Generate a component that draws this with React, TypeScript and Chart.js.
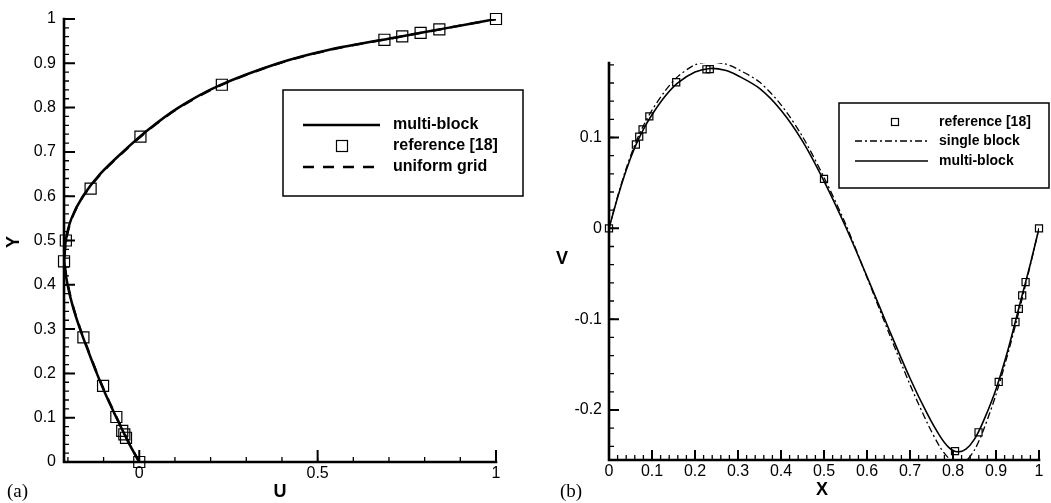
import React, { useEffect, useRef } from 'react';
import { Chart, registerables } from 'chart.js';
Chart.register(...registerables);

// ---------- Panel (a): U along vertical centreline ----------
const refY_a = [1.0, 0.9766, 0.9688, 0.9609, 0.9531, 0.8516, 0.7344, 0.6172, 0.5, 0.4531, 0.2813, 0.1719, 0.1016, 0.0703, 0.0625, 0.0547, 0.0];
const refU_a = [1.0, 0.8412, 0.7887, 0.7372, 0.6872, 0.2315, 0.0033, -0.1364, -0.2058, -0.2109, -0.1566, -0.1015, -0.0643, -0.0478, -0.0419, -0.0372, 0.0];

const curveY_a = [0, 0.03, 0.06, 0.1, 0.15, 0.2, 0.25, 0.3, 0.35, 0.4, 0.45, 0.5, 0.55, 0.6, 0.65, 0.7, 0.75, 0.8, 0.85, 0.9, 0.93, 0.96, 0.98, 1.0];
const multiU_a = [0, -0.021, -0.04, -0.064, -0.093, -0.119, -0.143, -0.166, -0.186, -0.201, -0.21, -0.206, -0.19, -0.158, -0.11, -0.046, 0.025, 0.11, 0.225, 0.39, 0.53, 0.73, 0.865, 1.0];
const uniformU_a = [0, -0.02, -0.039, -0.063, -0.092, -0.118, -0.142, -0.165, -0.185, -0.2, -0.209, -0.205, -0.189, -0.157, -0.108, -0.044, 0.027, 0.112, 0.227, 0.392, 0.533, 0.732, 0.866, 1.0];

const uTickValues = [0, 0.5, 1];
const uTickLabels = ['0', '0.5', '1'];
const yTickValues_a = [0, 0.1, 0.2, 0.3, 0.4, 0.5, 0.6, 0.7, 0.8, 0.9, 1];
const yTickLabels_a = ['0', '0.1', '0.2', '0.3', '0.4', '0.5', '0.6', '0.7', '0.8', '0.9', '1'];

// ---------- Panel (b): V along horizontal centreline ----------
const refX_b = [0, 0.0625, 0.0703, 0.0781, 0.0938, 0.1563, 0.2266, 0.2344, 0.5, 0.8047, 0.8594, 0.9063, 0.9453, 0.9531, 0.9609, 0.9688, 1.0];
const refV_b = [0, 0.0923, 0.1009, 0.1089, 0.1232, 0.1608, 0.1751, 0.1753, 0.0545, -0.2453, -0.2245, -0.1691, -0.1031, -0.0886, -0.0739, -0.0591, 0];

const curveX_b = [0, 0.02, 0.04, 0.06, 0.08, 0.1, 0.13, 0.16, 0.2, 0.235, 0.27, 0.3, 0.35, 0.4, 0.45, 0.5, 0.55, 0.6, 0.65, 0.7, 0.74, 0.77, 0.79, 0.81, 0.83, 0.85, 0.87, 0.9, 0.93, 0.96, 0.98, 1];
const multiV_b = [0, 0.034, 0.064, 0.089, 0.109, 0.125, 0.145, 0.16, 0.172, 0.176, 0.174, 0.168, 0.154, 0.13, 0.096, 0.052, 0.002, -0.053, -0.11, -0.165, -0.204, -0.229, -0.241, -0.246, -0.243, -0.232, -0.213, -0.177, -0.13, -0.075, -0.039, 0];
const singleV_b = [0, 0.035, 0.066, 0.092, 0.113, 0.13, 0.151, 0.167, 0.18, 0.183, 0.181, 0.175, 0.161, 0.136, 0.101, 0.056, 0.005, -0.054, -0.114, -0.172, -0.214, -0.241, -0.253, -0.259, -0.256, -0.244, -0.223, -0.183, -0.134, -0.079, -0.04, 0];

const xTickValues_b = [0, 0.1, 0.2, 0.3, 0.4, 0.5, 0.6, 0.7, 0.8, 0.9, 1];
const xTickLabels_b = ['0', '0.1', '0.2', '0.3', '0.4', '0.5', '0.6', '0.7', '0.8', '0.9', '1'];
const vTickValues_b = [-0.2, -0.1, 0, 0.1];
const vTickLabels_b = ['-0.2', '-0.1', '0', '0.1'];

const SANS = '"Liberation Sans", Arial, Helvetica, sans-serif';
const SERIF = '"Liberation Serif", "Times New Roman", serif';

const pts = (xs: number[], ys: number[]) => xs.map((x, i) => ({ x, y: ys[i] }));

function minorValues(min: number, max: number, step: number) {
  const out: number[] = [];
  const start = Math.ceil(min / step - 1e-9);
  for (let k = start; k * step <= max + 1e-9; k++) out.push(k * step);
  return out;
}

function makeDecor(d: any) {
  return {
    id: 'decor',
    afterDatasetsDraw(chart: any) {
      const ctx = chart.ctx;
      const { left, right, top, bottom } = chart.chartArea;
      const xs = chart.scales.x;
      const ys = chart.scales.y;
      ctx.save();
      ctx.strokeStyle = '#000';
      ctx.setLineDash([]);
      const xTicks = (vals: number[], len: number, w: number) => {
        ctx.lineWidth = w;
        ctx.beginPath();
        vals.forEach((v) => {
          const p = xs.getPixelForValue(v);
          if (p < left - 0.5 || p > right + 0.5) return;
          ctx.moveTo(p, bottom);
          ctx.lineTo(p, bottom - len);
        });
        ctx.stroke();
      };
      const yTicks = (vals: number[], len: number, w: number) => {
        ctx.lineWidth = w;
        ctx.beginPath();
        vals.forEach((v) => {
          const p = ys.getPixelForValue(v);
          if (p < top - 0.5 || p > bottom + 0.5) return;
          ctx.moveTo(left, p);
          ctx.lineTo(left + len, p);
        });
        ctx.stroke();
      };
      xTicks(minorValues(xs.min, xs.max, d.xMinorStep), d.xMinorLen, 1.3);
      xTicks(d.xMajor, d.xMajorLen, 2);
      yTicks(minorValues(ys.min, ys.max, d.yMinorStep), d.yMinorLen, 1.3);
      yTicks(d.yMajor, d.yMajorLen, 2);
      ctx.lineWidth = d.axisWidth;
      ctx.lineCap = 'square';
      ctx.beginPath();
      ctx.moveTo(left, top);
      ctx.lineTo(left, bottom);
      ctx.lineTo(right, bottom);
      ctx.stroke();
      ctx.restore();
    },
    afterDraw(chart: any) {
      const ctx = chart.ctx;
      ctx.save();
      ctx.fillStyle = '#000';
      ctx.strokeStyle = '#000';
      const L = d.legend;
      ctx.lineWidth = 1.5;
      ctx.setLineDash([]);
      ctx.strokeRect(L.box[0], L.box[1], L.box[2], L.box[3]);
      ctx.font = L.font;
      ctx.textBaseline = 'middle';
      ctx.textAlign = 'left';
      L.rows.forEach((r: any, i: number) => {
        const y = L.rowY[i];
        if (r.kind === 'square') {
          ctx.lineWidth = 1.2;
          ctx.setLineDash([]);
          ctx.strokeRect(L.symX - r.size / 2, y - r.size / 2, r.size, r.size);
        } else {
          ctx.lineWidth = r.width;
          ctx.setLineDash(r.dash);
          ctx.beginPath();
          ctx.moveTo(L.lineX0, y);
          ctx.lineTo(L.lineX1, y);
          ctx.stroke();
        }
        ctx.setLineDash([]);
        ctx.fillText(r.text, L.textX, y);
      });
      d.texts.forEach((t: any) => {
        ctx.save();
        ctx.font = t.font;
        ctx.textAlign = t.align || 'center';
        ctx.textBaseline = 'middle';
        ctx.translate(t.x, t.y);
        if (t.rot) ctx.rotate(t.rot);
        ctx.fillText(t.text, 0, 0);
        ctx.restore();
      });
      ctx.restore();
    },
  };
}

function fixedTicks(values: number[]) {
  return (scale: any) => {
    scale.ticks = values.map((v) => ({ value: v }));
  };
}

function makeConfig(p: any) {
  return {
    type: 'scatter',
    data: { datasets: p.datasets },
    options: {
      animation: false,
      responsive: false,
      devicePixelRatio: 1,
      events: [],
      layout: { padding: p.padding },
      plugins: { legend: { display: false }, tooltip: { enabled: false } },
      scales: {
        x: {
          type: 'linear',
          min: p.xMin,
          max: p.xMax,
          grid: { display: false, drawTicks: false },
          border: { display: false },
          afterBuildTicks: fixedTicks(p.xTickValues),
          afterFit: (s: any) => { s.height = p.xHeight; },
          ticks: {
            autoSkip: false,
            maxRotation: 0,
            padding: p.xPad,
            color: '#000',
            font: { family: SANS, size: 16 },
            callback: (_v: any, i: number) => p.xTickLabels[i],
          },
        },
        y: {
          type: 'linear',
          min: p.yMin,
          max: p.yMax,
          grid: { display: false, drawTicks: false },
          border: { display: false },
          afterBuildTicks: fixedTicks(p.yTickValues),
          afterFit: (s: any) => { s.width = p.yWidth; },
          ticks: {
            autoSkip: false,
            padding: p.yPad,
            color: '#000',
            font: { family: SANS, size: 16 },
            callback: (_v: any, i: number) => p.yTickLabels[i],
          },
        },
      },
    },
    plugins: [makeDecor(p.decor)],
  };
}

const lineDs = (data: any, width: number, dash: number[]) => ({
  data,
  showLine: true,
  borderColor: '#000',
  borderWidth: width,
  borderDash: dash,
  pointRadius: 0,
  tension: 0.3,
  fill: false,
});

const refDs = (data: any, radius: number) => ({
  data,
  showLine: false,
  clip: false,
  pointStyle: 'rect',
  pointRadius: radius,
  pointBorderWidth: 1.2,
  pointBorderColor: '#000',
  pointBackgroundColor: 'rgba(0,0,0,0)',
  borderColor: '#000',
  backgroundColor: 'rgba(0,0,0,0)',
});

const configA = () =>
  makeConfig({
    datasets: [
      lineDs(pts(uniformU_a, curveY_a), 2.3, [11, 9]),
      lineDs(pts(multiU_a, curveY_a), 2.5, []),
      refDs(pts(refU_a, refY_a), 7.8),
    ],
    padding: { left: 0, top: 19, right: 44, bottom: 0 },
    xMin: -0.211, xMax: 1, yMin: 0, yMax: 1,
    xHeight: 41, yWidth: 64, xPad: 2, yPad: 8,
    xTickValues: uTickValues, xTickLabels: uTickLabels,
    yTickValues: yTickValues_a, yTickLabels: yTickLabels_a,
    decor: {
      xMinorStep: 0.1, xMinorLen: 5, xMajor: uTickValues, xMajorLen: 12,
      yMinorStep: 0.02, yMinorLen: 5, yMajor: yTickValues_a, yMajorLen: 11,
      axisWidth: 2.6,
      legend: {
        box: [283, 90, 240, 106],
        font: `bold 16px ${SANS}`,
        rowY: [125, 146, 167],
        lineX0: 303, lineX1: 380, symX: 342, textX: 393,
        rows: [
          { kind: 'line', dash: [], width: 2.5, text: 'multi-block' },
          { kind: 'square', size: 11, text: 'reference [18]' },
          { kind: 'line', dash: [11, 9], width: 2.5, text: 'uniform grid' },
        ],
      },
      texts: [
        { text: 'Y', x: 14, y: 242, rot: -Math.PI / 2, font: `bold 18px ${SANS}` },
        { text: 'U', x: 280, y: 492, font: `bold 18px ${SANS}` },
        { text: '(a)', x: 7, y: 492, align: 'left', font: `19px ${SERIF}` },
      ],
    },
  });

const configB = () =>
  makeConfig({
    datasets: [
      lineDs(pts(curveX_b, singleV_b), 1.3, [7, 3, 2, 3]),
      lineDs(pts(curveX_b, multiV_b), 1.6, []),
      refDs(pts(refX_b, refV_b), 5),
    ],
    padding: { left: 0, top: 63, right: 12, bottom: 0 },
    xMin: 0, xMax: 1, yMin: -0.255, yMax: 0.182,
    xHeight: 43, yWidth: 69, xPad: 2, yPad: 7,
    xTickValues: xTickValues_b, xTickLabels: xTickLabels_b,
    yTickValues: vTickValues_b, yTickLabels: vTickLabels_b,
    decor: {
      xMinorStep: 0.02, xMinorLen: 5, xMajor: xTickValues_b, xMajorLen: 10,
      yMinorStep: 0.02, yMinorLen: 5, yMajor: vTickValues_b, yMajorLen: 10,
      axisWidth: 2.6,
      legend: {
        box: [299, 103, 210, 85],
        font: `bold 14px ${SANS}`,
        rowY: [122, 141, 161],
        lineX0: 315, lineX1: 388, symX: 355, textX: 399,
        rows: [
          { kind: 'square', size: 7, text: 'reference [18]' },
          { kind: 'line', dash: [7, 3, 2, 3], width: 1.3, text: 'single block' },
          { kind: 'line', dash: [], width: 1.6, text: 'multi-block' },
        ],
      },
      texts: [
        { text: 'V', x: 22, y: 259, font: `bold 18px ${SANS}` },
        { text: 'X', x: 282, y: 490, font: `bold 18px ${SANS}` },
        { text: '(b)', x: 20, y: 492, align: 'left', font: `19px ${SERIF}` },
      ],
    },
  });

function Panel({ left, width, make }: { left: number; width: number; make: () => any }) {
  const ref = useRef<HTMLCanvasElement>(null);
  useEffect(() => {
    if (!ref.current) return;
    const chart = new Chart(ref.current, make());
    return () => chart.destroy();
  }, []);
  return (
    <canvas
      ref={ref}
      width={width}
      height={503}
      style={{ position: 'absolute', left, top: 0, width, height: 503 }}
    />
  );
}

export default function App() {
  return (
    <div style={{ position: 'fixed', left: 0, top: 0, width: 1051, height: 503, background: '#fff', overflow: 'hidden' }}>
      <Panel left={0} width={540} make={configA} />
      <Panel left={540} width={511} make={configB} />
    </div>
  );
}
